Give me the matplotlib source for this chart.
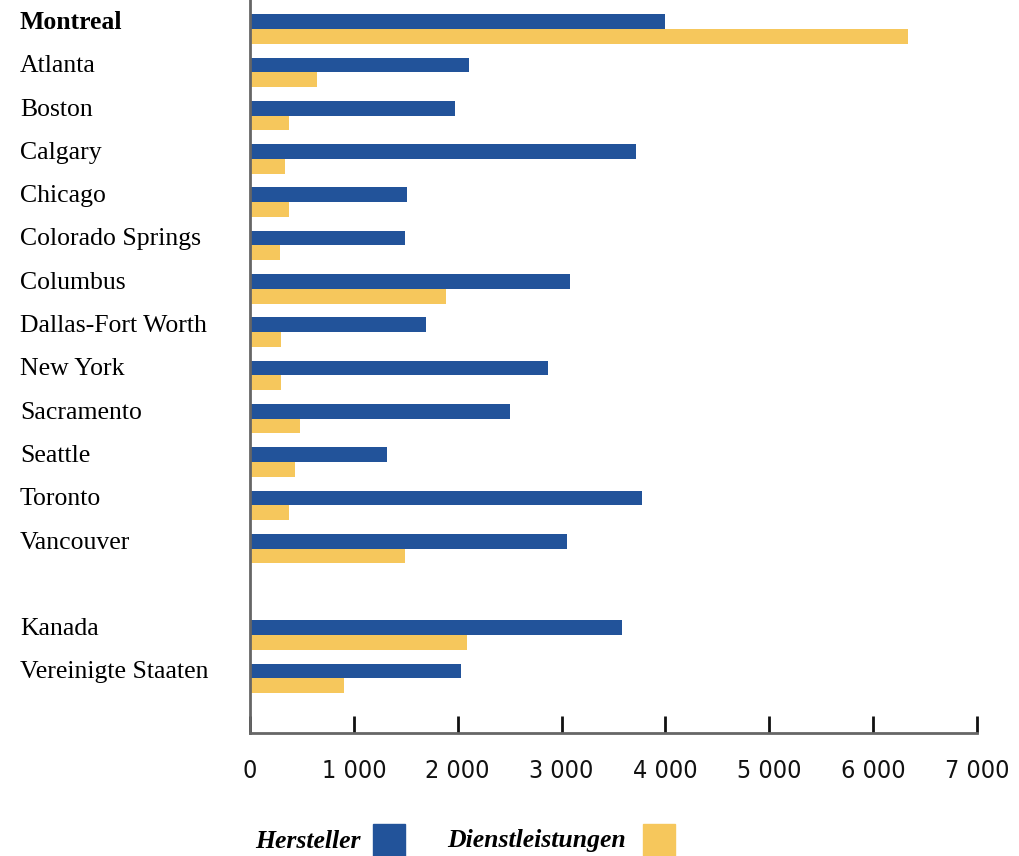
import matplotlib.pyplot as plt
from matplotlib.patches import Rectangle

# values
cities = [
    "Montreal", "Atlanta", "Boston", "Calgary", "Chicago", "Colorado Springs",
    "Columbus", "Dallas-Fort Worth", "New York", "Sacramento", "Seattle",
    "Toronto", "Vancouver", "", "Kanada", "Vereinigte Staaten",
]
hersteller = [4000, 2105, 1970, 3720, 1510, 1490, 3080, 1690, 2865, 2500,
              1320, 3770, 3050, None, 3580, 2030]
dienstleistungen = [6340, 645, 375, 340, 375, 290, 1885, 300, 300, 480,
                    435, 375, 1490, None, 2085, 905]
x_ticks = [0, 1000, 2000, 3000, 4000, 5000, 6000, 7000]

BLUE = "#22539A"
YELLOW = "#F6C75C"
SERIF = ["Liberation Serif", "DejaVu Serif"]


def main() -> None:
    fig = plt.figure(figsize=(10.2, 8.56), dpi=100)
    ax = fig.add_axes([250 / 1020, 123 / 856, 727 / 1020, 733 / 856])

    h = 0.34
    for i, (b, y) in enumerate(zip(hersteller, dienstleistungen)):
        if b is None:
            continue
        ax.barh(i - h / 2, b, height=h, color=BLUE, linewidth=0)
        ax.barh(i + h / 2, y, height=h, color=YELLOW, linewidth=0)

    ax.set_xlim(0, 7000)
    ax.set_ylim(16.26, -0.67)
    ax.set_yticks([])
    ax.set_xticks(x_ticks)
    ax.set_xticklabels([f"{t:,}".replace(",", " ") for t in x_ticks],
                       family="DejaVu Sans", stretch="condensed", fontsize=18,
                       color="#111111")
    ax.tick_params(axis="x", direction="in", length=12, width=2,
                   color="#111111", pad=19)
    for side in ("top", "right"):
        ax.spines[side].set_visible(False)
    for side in ("left", "bottom"):
        ax.spines[side].set_color("#666666")
        ax.spines[side].set_linewidth(2)

    # city labels, left aligned at x=20px, baseline on the row centre
    label_x = -(250 - 20) / 727
    for i, name in enumerate(cities):
        if not name:
            continue
        ax.text(label_x, i, name, transform=ax.get_yaxis_transform(),
                ha="left", va="baseline", family=SERIF, fontsize=18.5,
                fontweight="bold" if name == "Montreal" else "normal")

    # legend at the bottom
    fig.text(255 / 1020, 1 - 841 / 856, "Hersteller", family=SERIF,
             fontsize=18.5, fontweight="bold", style="italic", va="center")
    fig.patches.append(Rectangle((373 / 1020, 0), 32 / 1020, 32 / 856,
                                 transform=fig.transFigure, color=BLUE))
    fig.text(447 / 1020, 1 - 841 / 856, "Dienstleistungen", family=SERIF,
             fontsize=18.5, fontweight="bold", style="italic", va="center")
    fig.patches.append(Rectangle((643 / 1020, 0), 32 / 1020, 32 / 856,
                                 transform=fig.transFigure, color=YELLOW))

    fig.savefig("out.png", dpi=100)
    plt.close(fig)


if __name__ == "__main__":
    main()
